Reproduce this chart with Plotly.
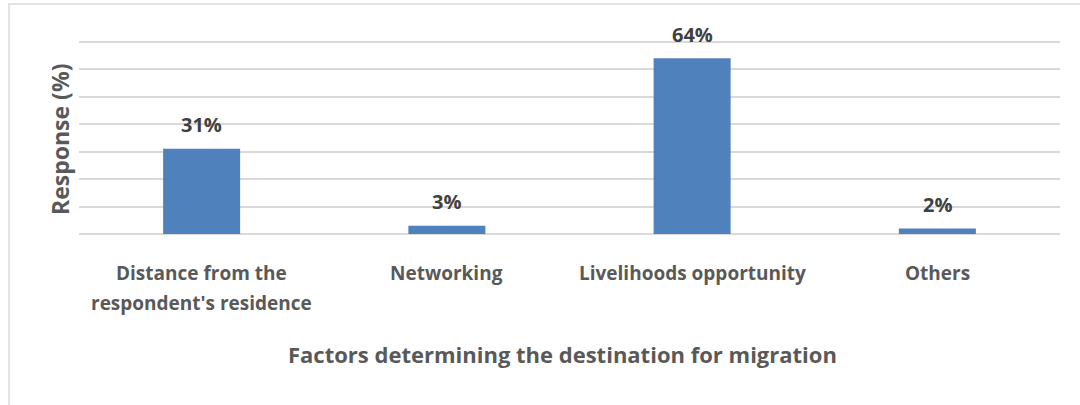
import plotly.graph_objects as go

categories = ["Distance from the<br>respondent's residence", "Networking",
              "Livelihoods opportunity", "Others"]
responses = [31, 3, 64, 2]
value_labels = ["31%", "3%", "64%", "2%"]

W, H = 1080, 405
L, R, T, B = 79, 20, 39, 171
plot_h = H - T - B
plot_w = W - L - R
Y_MAX = 71

FONT = "Open Sans"
BAR = "#4F81BD"
GRID = "#D9D9D9"
AXIS_TXT = "#595959"

fig = go.Figure(go.Bar(
    x=categories, y=responses, marker=dict(color=BAR, line=dict(width=0)),
    width=0.314, hoverinfo="skip",
))

# value labels above each bar
for c, v, t in zip(categories, responses, value_labels):
    fig.add_annotation(x=c, y=v, text=f"<b>{t}</b>", showarrow=False,
                       xanchor="center", yanchor="middle", yshift=24,
                       font=dict(family=FONT, size=20, color="#404040"))

def px_x(p):
    return (p - L) / plot_w

def px_y(p):
    return (H - B - p) / plot_h

# category labels, one annotation per line for wider line spacing
for c in categories:
    for i, line in enumerate(c.split("<br>")):
        fig.add_annotation(x=c, xref="x", yref="paper", y=px_y(273 + 30 * i),
                           text=f"<b>{line}</b>", showarrow=False,
                           xanchor="center", yanchor="middle",
                           font=dict(family=FONT, size=19, color=AXIS_TXT))

# axis titles
fig.add_annotation(xref="paper", yref="paper", x=px_x(562), y=px_y(354),
                   xanchor="center", yanchor="middle",
                   text="<b>Factors determining the destination for migration</b>",
                   showarrow=False, font=dict(family=FONT, size=22, color=AXIS_TXT))
fig.add_annotation(xref="paper", yref="paper", x=px_x(60), y=px_y(140),
                   xanchor="center", yanchor="middle",
                   text="<b>Response (%)</b>", textangle=-90, showarrow=False,
                   font=dict(family=FONT, size=23, color=AXIS_TXT))

# chart frame
fig.add_shape(type="rect", xref="paper", yref="paper",
              x0=px_x(9), x1=px_x(1090), y0=px_y(415), y1=px_y(4),
              line=dict(color=GRID, width=1.5), fillcolor="rgba(0,0,0,0)", layer="below")

fig.update_layout(
    width=W, height=H, margin=dict(l=L, r=R, t=T, b=B),
    paper_bgcolor="white", plot_bgcolor="white", showlegend=False,
    xaxis=dict(showgrid=False, showline=False, zeroline=False, ticks="",
               showticklabels=False),
    yaxis=dict(range=[0, Y_MAX], tickvals=list(range(0, 71, 10)), showgrid=True,
               gridcolor=GRID, gridwidth=1.5,
               zeroline=True, zerolinecolor=GRID, zerolinewidth=1.5,
               showticklabels=False, showline=False, fixedrange=True),
)

fig.write_html("out.html")
